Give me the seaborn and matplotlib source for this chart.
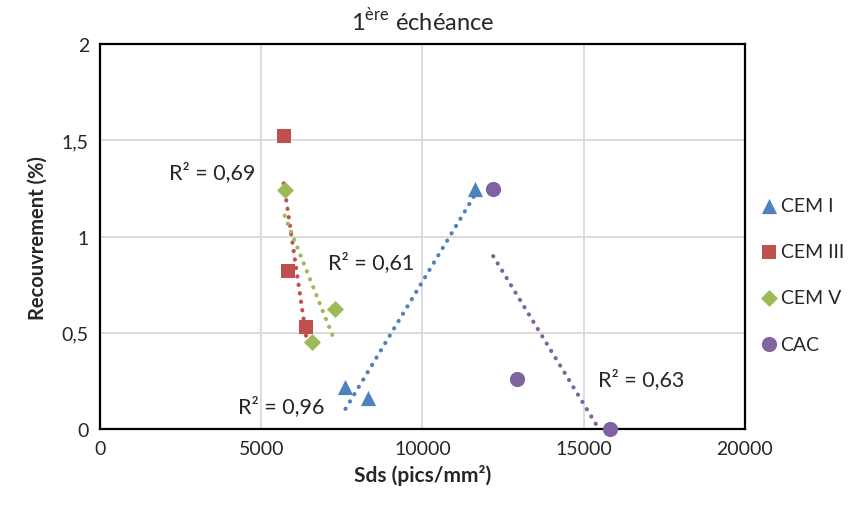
import numpy as np
import pandas as pd
import matplotlib
matplotlib.use("Agg")
import matplotlib.pyplot as plt
import seaborn as sns

# values
cem1_x = [7615, 8315, 11644]
cem1_y = [0.22, 0.16, 1.245]
cem3_x = [5701, 5836, 6402]
cem3_y = [1.52, 0.82, 0.53]
cem5_x = [5728, 7277, 6590]
cem5_y = [1.24, 0.625, 0.45]
cac_x = [12197, 12938, 15808]
cac_y = [1.245, 0.26, 0.0]

series = ["CEM I", "CEM III", "CEM V", "CAC"]
r2_labels = ["R² = 0,96", "R² = 0,69", "R² = 0,61", "R² = 0,63"]
r2_pos = [(5620, 0.12), (3470, 1.335), (8420, 0.87), (16800, 0.26)]

x_ticks = [0, 5000, 10000, 15000, 20000]
y_ticks = [0, 0.5, 1, 1.5, 2]
y_tick_labels = ["0", "0,5", "1", "1,5", "2"]

data = pd.DataFrame({
    "Sds": cem1_x + cem3_x + cem5_x + cac_x,
    "Rec": cem1_y + cem3_y + cem5_y + cac_y,
    "Ciment": ["CEM I"] * 3 + ["CEM III"] * 3 + ["CEM V"] * 3 + ["CAC"] * 3,
})

colors = {"CEM I": "#4F81BD", "CEM III": "#C0504D", "CEM V": "#9BBB59", "CAC": "#8064A2"}
markers = {"CEM I": "^", "CEM III": "s", "CEM V": "D", "CAC": "o"}
sizes = {"CEM I": 120, "CEM III": 115, "CEM V": 75, "CAC": 120}

sns.set_style("white")
plt.rcParams["font.family"] = ["Lato", "DejaVu Sans"]
plt.rcParams["mathtext.fontset"] = "custom"
plt.rcParams["mathtext.rm"] = "Lato"

fig = plt.figure(figsize=(8.55, 5.06), dpi=100)
ax = fig.add_axes([0.117, 0.150, 0.754, 0.761])

for name in series:
    sub = data[data["Ciment"] == name]
    sns.regplot(data=sub, x="Sds", y="Rec", ax=ax, scatter=False, ci=None, truncate=True,
                line_kws={"color": colors[name], "linestyle": (0, (0.05, 2.0)), "lw": 3.0,
                          "dash_capstyle": "round", "zorder": 2})

for name in series:
    sub = data[data["Ciment"] == name]
    ax.scatter(sub["Sds"], sub["Rec"], marker=markers[name], s=sizes[name],
               color=colors[name], label=name, zorder=4, clip_on=False, linewidths=0)

for lab, (px, py) in zip(r2_labels, r2_pos):
    ax.text(px, py, lab, ha="center", va="center", fontsize=15.5, zorder=5)

ax.set_xlim(0, 20000)
ax.set_ylim(0, 2)
ax.set_xticks(x_ticks)
ax.set_yticks(y_ticks)
ax.set_yticklabels(y_tick_labels)
ax.tick_params(labelsize=14, length=0, pad=8)
ax.grid(True, color="#D9D9D9", lw=1.3)
ax.set_axisbelow(True)
for sp in ax.spines.values():
    sp.set_color("black")
    sp.set_linewidth(1.6)

ax.set_xlabel("Sds (pics/mm²)", fontsize=15, fontweight="bold", labelpad=5)
ax.set_ylabel("Recouvrement (%)", fontsize=14.5, fontweight="bold", labelpad=10)
ax.set_title(r"1$^{\mathrm{ère}}$ échéance", fontsize=17, pad=10)

ax.legend(loc="center left", bbox_to_anchor=(0.872, 0.455), bbox_transform=fig.transFigure,
          frameon=False, fontsize=14, labelspacing=1.5, handletextpad=0.1,
          handlelength=1.0, scatterpoints=1, borderpad=0.2)

fig.savefig("out.png", dpi=100)
